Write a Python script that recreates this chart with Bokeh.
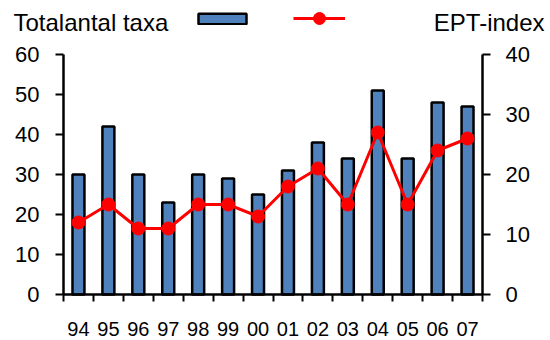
from bokeh.plotting import figure
from bokeh.models import (Range1d, LinearAxis, FixedTicker, Legend, LegendItem,
                          Label, ColumnDataSource)
from bokeh.core.properties import value
from bokeh.embed import file_html
from bokeh.resources import INLINE

# Sampling years (two-digit labels) and the two series
years = ["94", "95", "96", "97", "98", "99", "00", "01", "02", "03", "04", "05", "06", "07"]
total_taxa = [30, 42, 30, 23, 30, 29, 25, 31, 38, 34, 51, 34, 48, 47]
ept_index = [12, 15, 11, 11, 15, 15, 13, 18, 21, 15, 27, 15, 24, 26]

FONT = "Liberation Sans"
BAR_BLUE = "#4f81bd"
RED = "#ff0000"

W, H = 550, 340
# pixel box of the data area inside the canvas
LEFT, RIGHT, TOP, BOTTOM = 63, 482, 54, 294
n = len(years)
taxa_max, ept_max = 60, 40

# The frame covers the whole canvas so the legend row above the data area
# can be drawn freely; the axes are pinned to the data-area edges instead.
px_x = (RIGHT - LEFT) / n
px_y = (BOTTOM - TOP) / taxa_max
x_range = Range1d(-LEFT / px_x, n + (W - RIGHT) / px_x)
y_range = Range1d(-(H - BOTTOM) / px_y, BOTTOM / px_y)
k = ept_max / taxa_max
ept_range = Range1d(y_range.start * k, y_range.end * k)

xpos = [i + 0.5 for i in range(n)]
src = ColumnDataSource(dict(x=xpos, taxa=total_taxa, ept=ept_index))

p = figure(width=W, height=H, output_backend="svg", toolbar_location=None,
           x_range=x_range, y_range=y_range, min_border=0)
p.outline_line_color = None
p.grid.grid_line_color = None
p.extra_y_ranges = {"ept": ept_range}

bars = p.vbar(x="x", top="taxa", source=src, width=0.4, fill_color=BAR_BLUE,
              line_color="black", line_width=2.5)
ept_line = p.line(x="x", y="ept", source=src, y_range_name="ept",
                  line_color=RED, line_width=3)
ept_dots = p.scatter(x="x", y="ept", source=src, y_range_name="ept", size=13,
                     fill_color=RED, line_color=RED)

# x axis: labels at the category centres, tick marks on category boundaries
xa = p.xaxis[0]
xa.fixed_location = 0
xa.bounds = (0, n)
xa.ticker = FixedTicker(ticks=xpos, minor_ticks=list(range(n + 1)))
xa.major_label_overrides = {x: y for x, y in zip(xpos, years)}
xa.major_tick_line_color = None
xa.major_tick_out = 7
xa.minor_tick_in = 0
xa.minor_tick_out = 7
xa.minor_tick_line_width = 2

ya = p.yaxis[0]
ya.fixed_location = 0
ya.bounds = (0, taxa_max)
ya.ticker = FixedTicker(ticks=[0, 10, 20, 30, 40, 50, 60])
ya.minor_tick_line_color = None
ya.major_tick_in = 0
ya.major_tick_out = 8

ra = LinearAxis(y_range_name="ept", fixed_location=n, bounds=(0, ept_max),
                ticker=FixedTicker(ticks=[0, 10, 20, 30, 40]))
ra.minor_tick_line_color = None
ra.major_tick_in = 0
ra.major_tick_out = 8
p.add_layout(ra, "right")

for ax in (xa, ya, ra):
    ax.axis_line_color = "black"
    ax.axis_line_width = 2.5
    ax.major_tick_line_width = 2
    ax.major_label_text_font = FONT
    ax.major_label_text_font_size = "22px"
    ax.major_label_text_color = "black"
xa.major_label_text_font_size = "20px"
xa.major_label_standoff = 20
ya.major_label_standoff = 16
ra.major_label_standoff = 15

# ---- legend row ---------------------------------------------------------------
for txt, xs, align in (("Totalantal taxa", 13, "left"), ("EPT-index", 544, "right")):
    p.add_layout(Label(x=xs, y=H - 22, x_units="screen", y_units="screen", text=txt,
                       text_font=FONT, text_font_size="24px", text_align=align,
                       text_baseline="alphabetic", text_color="black"))

common = dict(padding=0, margin=0, label_standoff=0, label_width=0, label_height=0,
              label_text_font_size="1px", border_line_color=None,
              background_fill_alpha=0)
p.add_layout(Legend(items=[LegendItem(label=value(" "), renderers=[bars])],
                    location=(192, H - 25), glyph_width=60, glyph_height=13, **common))
p.add_layout(Legend(items=[LegendItem(label=value(" "), renderers=[ept_line, ept_dots])],
                    location=(293, H - 33), glyph_width=52, glyph_height=30, **common))

open("out.html", "w").write(file_html(p, INLINE))
